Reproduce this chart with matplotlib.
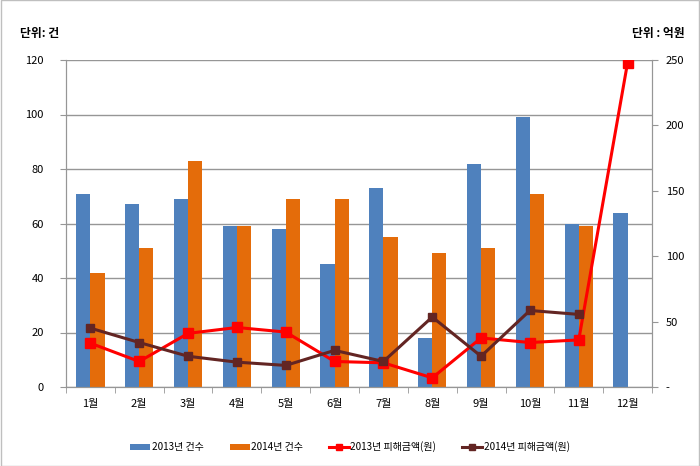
import matplotlib
matplotlib.use("Agg")
import matplotlib.pyplot as plt
import numpy as np
from matplotlib.patches import Rectangle

plt.rcParams['font.family'] = ['Noto Sans CJK KR', 'DejaVu Sans']
plt.rcParams['axes.unicode_minus'] = False

# 데이터
months = ['1월', '2월', '3월', '4월', '5월', '6월', '7월', '8월', '9월', '10월', '11월', '12월']
cnt_2013 = [71, 67, 69, 59, 58, 45, 73, 18, 82, 99, 60, 64]
cnt_2014 = [42, 51, 83, 59, 69, 69, 55, 49, 51, 71, 59, np.nan]
amt_2013 = [33.5, 19.5, 41, 45.5, 42, 19.5, 18.5, 7, 37.5, 34, 36, 248]
amt_2014 = [45, 34, 23.5, 19, 16.5, 28, 19.5, 53.5, 23.5, 58.5, 55.5, np.nan]

c_blue = '#4F81BD'
c_orange = '#E46C0A'
c_red = '#FF0000'
c_brown = '#632523'
c_grid = '#969696'

fig = plt.figure(figsize=(7, 4.66), dpi=100)
ax = fig.add_axes([66/700, 1-387/466, (652-66)/700, (387-60)/466])
ax2 = ax.twinx()

x = np.arange(len(months))
w = 0.29
b1 = ax.bar(x - w/2, cnt_2013, w, color=c_blue, label='2013년 건수', zorder=2)
b2 = ax.bar(x + w/2, cnt_2014, w, color=c_orange, label='2014년 건수', zorder=2)

l1, = ax2.plot(x, amt_2013, color=c_red, lw=2.2, marker='s', ms=6.5, label='2013년 피해금액(원)')
l2, = ax2.plot(x, amt_2014, color=c_brown, lw=2.2, marker='s', ms=6, label='2014년 피해금액(원)')

ax.set_xlim(-0.5, len(months) - 0.5)
ax.set_ylim(0, 120)
ax.set_yticks(range(0, 121, 20))
ax2.set_ylim(0, 250)
ax2.set_yticks(range(0, 251, 50))
ax2.set_yticklabels(['-'] + [str(v) for v in range(50, 251, 50)])

ax.yaxis.grid(True, color=c_grid, lw=1, zorder=0)
ax.set_axisbelow(True)
ax.set_xticks(x)
ax.set_xticklabels(months)
ax.set_xticks(np.arange(-0.5, len(months)), minor=True)
ax.tick_params(axis='x', which='major', length=0, pad=9, labelsize=8)
ax.tick_params(axis='x', which='minor', length=4, color=c_grid)
ax.tick_params(axis='y', length=4, color=c_grid, labelsize=8, pad=12)
ax2.tick_params(axis='y', length=4, color=c_grid, labelsize=8, pad=6)

for a in (ax, ax2):
    a.spines['top'].set_visible(False)
    for s in ('left', 'right', 'bottom'):
        a.spines[s].set_color(c_grid)

fig.text(20/700, 1-33/466, '단위: 건', fontsize=8.5, fontweight='bold', va='center', ha='left')
fig.text(685/700, 1-33/466, '단위 : 억원', fontsize=8.5, fontweight='bold', va='center', ha='right')

fig.legend(handles=[b1, b2, l1, l2], loc='center', bbox_to_anchor=(0.5, 1-447/466),
           ncol=4, frameon=False, fontsize=7.2, handlelength=2.0, handleheight=0.55,
           columnspacing=2.6, handletextpad=0.15, markerscale=0.7)

fig.patches.append(Rectangle((0.001, 0.001), 0.998, 0.998, transform=fig.transFigure,
                             fill=False, edgecolor='#BFBFBF', lw=1))

fig.savefig('out.png', dpi=100)
